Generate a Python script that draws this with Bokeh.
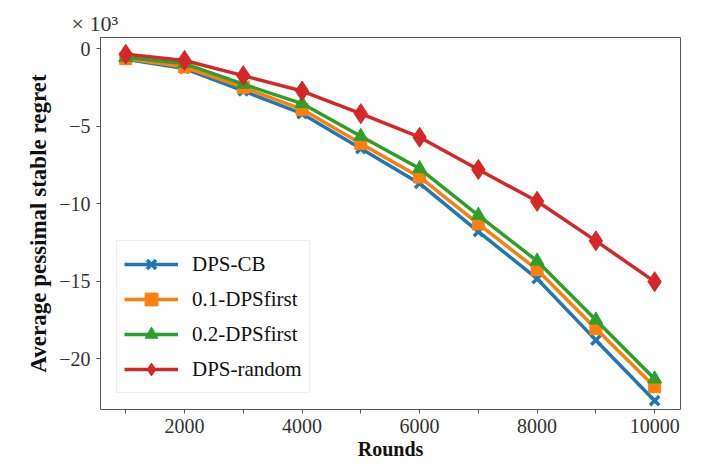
from bokeh.plotting import figure
from bokeh.models import FixedTicker, CustomJSTickFormatter, Range1d, Legend, LegendItem
from bokeh.embed import file_html
from bokeh.resources import INLINE

rounds = [1000, 2000, 3000, 4000, 5000, 6000, 7000, 8000, 9000, 10000]
dps_cb = [-0.70, -1.29, -2.73, -4.20, -6.45, -8.70, -11.80, -14.84, -18.80, -22.70]
dps_first_01 = [-0.65, -1.19, -2.50, -3.92, -6.13, -8.28, -11.30, -14.26, -18.06, -21.80]
dps_first_02 = [-0.58, -0.97, -2.30, -3.55, -5.66, -7.74, -10.75, -13.70, -17.50, -21.30]
dps_random = [-0.37, -0.77, -1.75, -2.74, -4.20, -5.72, -7.80, -9.85, -12.40, -15.03]

x_major = [2000, 4000, 6000, 8000, 10000]
x_minor = [1000, 3000, 5000, 7000, 9000]
y_major = [0, -5, -10, -15, -20]

FONT = "Liberation Serif"

p = figure(width=698, height=457, frame_width=580, frame_height=372,
           min_border_left=100, min_border_right=18, min_border_top=37, min_border_bottom=48,
           output_backend="svg", toolbar_location=None,
           x_range=Range1d(570, 10440), y_range=Range1d(-23.27, 0.71),
           title="\u00d7 10\u00b3")

p.title.align = "left"
p.title.offset = -29
p.title.text_font = FONT
p.title.text_font_size = "22px"
p.title.text_font_style = "normal"
p.title.text_color = "#333333"
p.title.standoff = 4

p.grid.visible = False
p.outline_line_color = "#555555"
p.outline_line_width = 1
p.background_fill_color = "white"
p.border_fill_color = "white"

for ax in (p.xaxis[0], p.yaxis[0]):
    ax.axis_line_color = None
    ax.major_tick_line_color = "#555555"
    ax.minor_tick_line_color = "#555555"
    ax.major_tick_in = 0
    ax.major_tick_out = 4
    ax.minor_tick_in = 0
    ax.minor_tick_out = 4
    ax.major_label_text_font = FONT
    ax.major_label_text_font_size = "20px"
    ax.major_label_text_color = "#333333"
    ax.axis_label_text_font = FONT
    ax.axis_label_text_font_style = "bold"
    ax.axis_label_text_color = "#111111"

p.xaxis.axis_label_text_font_size = "20px"
p.yaxis.axis_label_text_font_size = "23px"
p.xaxis.ticker = FixedTicker(ticks=x_major, minor_ticks=x_minor)
p.yaxis.ticker = FixedTicker(ticks=y_major, minor_ticks=[])
p.yaxis.formatter = CustomJSTickFormatter(code="return tick < 0 ? '\u2212' + Math.abs(tick) : '' + tick;")
p.xaxis.axis_label = "Rounds"
p.yaxis.axis_label = "Average pessimal stable regret"
p.xaxis.axis_label_standoff = 2
p.yaxis.axis_label_standoff = 5
p.xaxis.major_label_standoff = 5
p.yaxis.major_label_standoff = 6

series = [
    ("DPS-CB", dps_cb, "#1f77b4", "x", 13),
    ("0.1-DPSfirst", dps_first_01, "#ff7f0e", "square", 12),
    ("0.2-DPSfirst", dps_first_02, "#2ca02c", "triangle", 14),
    ("DPS-random", dps_random, "#d62728", "diamond", 20),
]

items = []
for name, ys, color, marker, size in series:
    ln = p.line(rounds, ys, line_color=color, line_width=3.5)
    sc = p.scatter(rounds, ys, marker=marker, size=size, fill_color=color,
                   line_color=color, line_width=3.5 if marker == "x" else 1)
    items.append(LegendItem(label=name, renderers=[ln, sc]))

legend = Legend(items=items, location="bottom_left", margin=16,
                label_text_font=FONT, label_text_font_size="21px",
                label_text_color="#111111",
                glyph_width=54, glyph_height=32, label_height=32,
                spacing=3, padding=7, label_standoff=14,
                border_line_color="#dddddd", border_line_width=1,
                background_fill_color="white", background_fill_alpha=0.85)
p.add_layout(legend)

open("out.html", "w").write(file_html(p, INLINE))
